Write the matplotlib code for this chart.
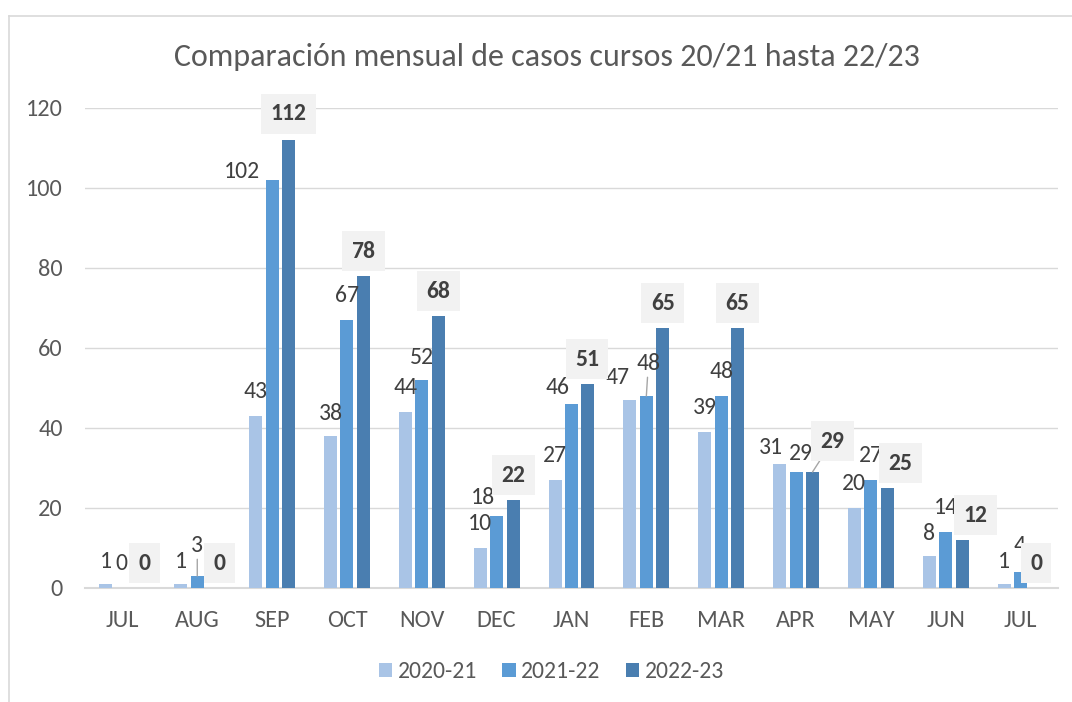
import matplotlib
matplotlib.use("Agg")
import matplotlib.pyplot as plt
from matplotlib.lines import Line2D
from matplotlib.patches import Patch
import numpy as np

plt.rcParams['font.family'] = ['Carlito', 'Lato', 'DejaVu Sans']

# ---------------- data ----------------
months = ["JUL", "AUG", "SEP", "OCT", "NOV", "DEC", "JAN", "FEB", "MAR", "APR", "MAY", "JUN", "JUL"]
series_names = ["2020-21", "2021-22", "2022-23"]
s2020_21 = [1, 1, 43, 38, 44, 10, 27, 47, 39, 31, 20, 8, 1]
s2021_22 = [0, 3, 102, 67, 52, 18, 46, 48, 48, 29, 27, 14, 4]
s2022_23 = [0, 0, 112, 78, 68, 22, 51, 65, 65, 29, 25, 12, 0]
yticks = [0, 20, 40, 60, 80, 100, 120]

# ---------------- styles ----------------
colors = ["#A9C4E6", "#5B9BD5", "#4A7EB0"]
title = "Comparación mensual de casos cursos 20/21 hasta 22/23"

# label offsets (px, relative to bar top centre): (dx, dy up)
off1 = [(0, 24), (0, 24), (0, 25), (0, 24), (0, 25), (0, 25), (0, 26), (-12, 23),
        (0, 25), (-9, 17), (0, 26), (0, 24), (0, 24)]
off2 = [(-1, 25), (0, 31), (-30, 9), (0, 25), (0, 24), (-14, 20), (-14, 17), (2, 33),
        (0, 25), (5, 20), (0, 25), (0, 25), (-1, 27)]
off3 = [(6, 26), (6, 26), (0, 27), (0, 26), (0, 26), (0, 26), (-1, 26), (0, 26),
        (0, 26), (20, 32), (13, 26), (13, 26), (-1, 26)]
leaders2 = {1, 7}
leaders3 = {9}

W, H = 1072, 702
fig = plt.figure(figsize=(W / 100, H / 100), dpi=100)
ax = fig.add_axes([85 / W, (H - 588) / H, (1058 - 85) / W, (588 - 108) / H])

x = np.arange(len(months))
bw = 0.174
step = 0.22
series = [s2020_21, s2021_22, s2022_23]
for k, (vals, c, name) in enumerate(zip(series, colors, series_names)):
    ax.bar(x + (k - 1) * step, vals, width=bw, color=c, label=name, zorder=2)

ax.set_xlim(-0.5, len(months) - 0.5)
ax.set_ylim(0, 120)
ax.set_yticks(yticks)
ax.set_xticks(x)
ax.set_xticklabels(months)
ax.yaxis.grid(True, color="#D9D9D9", lw=1.0, zorder=0)
ax.set_axisbelow(True)
for sp in ["top", "right", "left"]:
    ax.spines[sp].set_visible(False)
ax.spines["bottom"].set_color("#D9D9D9")
ax.spines["bottom"].set_linewidth(1.5)
ax.spines["bottom"].set_zorder(1)
ax.tick_params(axis="both", length=0, labelsize=17.5, labelcolor="#595959")
ax.tick_params(axis="y", pad=16)
ax.tick_params(axis="x", pad=16)

px = 0.72  # points per pixel


def add_labels(vals, k, offs, leaders, bold):
    for i, (v, (dx, dy)) in enumerate(zip(vals, offs)):
        kw = dict(xy=(x[i] + (k - 1) * step, v), xytext=(dx * px, (dy - 1) * px),
                  textcoords="offset points", ha="center", va="center",
                  fontsize=17, color="#404040", zorder=5, annotation_clip=False)
        if bold:
            kw["fontweight"] = "bold"
            kw["bbox"] = dict(boxstyle="square,pad=0.4", fc="#F2F2F2", ec="none")
        if i in leaders:
            kw["arrowprops"] = dict(arrowstyle="-", color="#A6A6A6", lw=1.0,
                                    shrinkA=0, shrinkB=0)
        ax.annotate(str(v), **kw)


add_labels(s2020_21, 0, off1, set(), False)
add_labels(s2021_22, 1, off2, leaders2, False)
add_labels(s2022_23, 2, off3, leaders3, True)

fig.text(547 / W, (H - 57) / H, title, ha="center", va="center",
         fontsize=23, color="#595959")

handles = [Patch(facecolor=c, edgecolor="none") for c in colors]
fig.legend(handles, series_names, loc="center", bbox_to_anchor=(551.5 / W, (H - 672) / H),
           ncol=3, frameon=False, handlelength=0.56, handleheight=0.56,
           handletextpad=0.25, columnspacing=1.05, fontsize=17, labelcolor="#595959")

# chart-area border (left and top visible)
fig.add_artist(Line2D([8.5 / W, 8.5 / W], [0, (H - 15.5) / H], color="#D9D9D9", lw=1.2,
                      transform=fig.transFigure))
fig.add_artist(Line2D([8.5 / W, 1], [(H - 15.5) / H, (H - 15.5) / H], color="#D9D9D9",
                      lw=1.2, transform=fig.transFigure))

fig.savefig("out.png", dpi=100)
